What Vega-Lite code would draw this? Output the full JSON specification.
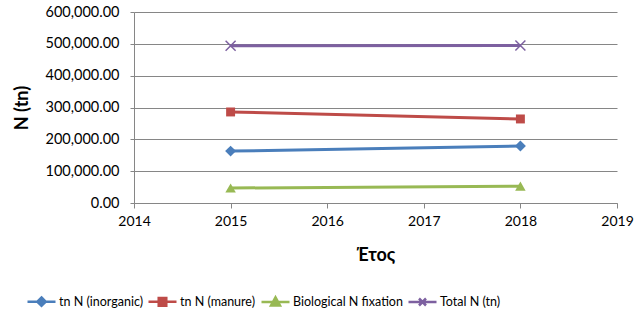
{
  "$schema": "https://vega.github.io/schema/vega-lite/v6.json",
  "autosize": {"type": "none"},
  "padding": {"left": 134, "top": 12, "right": 18, "bottom": 110},
  "width": 483,
  "height": 191,
  "background": "white",
  "config": {
    "font": "Lato",
    "view": {"stroke": null},
    "axis": {"labelFont": "Lato", "titleFont": "Lato", "labelColor": "#000000", "titleColor": "#000000"}
  },
  "data": {
    "values": [
      {"series": "tn N (inorganic)", "year": 2015, "value": 163000},
      {"series": "tn N (inorganic)", "year": 2018, "value": 179000},
      {"series": "tn N (manure)", "year": 2015, "value": 286000},
      {"series": "tn N (manure)", "year": 2018, "value": 264000},
      {"series": "Biological N fixation", "year": 2015, "value": 47000},
      {"series": "Biological N fixation", "year": 2018, "value": 53000},
      {"series": "Total N (tn)", "year": 2015, "value": 494000},
      {"series": "Total N (tn)", "year": 2018, "value": 495000}
    ]
  },
  "encoding": {
    "x": {
      "field": "year", "type": "quantitative",
      "scale": {"domain": [2014, 2019], "nice": false, "zero": false},
      "axis": {
        "values": [2014, 2015, 2016, 2017, 2018, 2019], "format": "d",
        "grid": false, "title": "Έτος", "titleFontSize": 18, "titleFontWeight": "bold",
        "titlePadding": 18, "labelFontSize": 14, "labelPadding": 6,
        "domainColor": "#868686", "tickColor": "#868686", "tickSize": 5, "labelFlush": false
      }
    },
    "y": {
      "field": "value", "type": "quantitative",
      "scale": {"domain": [0, 600000], "nice": false},
      "axis": {
        "values": [0, 100000, 200000, 300000, 400000, 500000, 600000], "format": ",.2f",
        "title": "N (tn)", "titleFontSize": 18, "titleFontWeight": "bold", "titlePadding": 14,
        "labelFontSize": 14.5, "labelPadding": 11,
        "gridColor": "#868686", "domainColor": "#868686", "tickColor": "#868686", "tickSize": 4
      }
    },
    "color": {
      "field": "series", "type": "nominal",
      "scale": {"domain": ["tn N (inorganic)", "tn N (manure)", "Biological N fixation", "Total N (tn)"], "range": ["#4A7EBB", "#BE4B48", "#98B954", "#7D60A0"]},
      "legend": {
        "title": null, "orient": "none", "direction": "horizontal",
        "legendX": -108, "legendY": 274,
        "labelFont": "Lato", "labelFontSize": 12.5, "labelColor": "#000000",
        "symbolSize": 784, "labelOffset": 2, "columnPadding": 0,
        "encode": {
          "symbols": {
            "update": {
              "shape": {"signal": "datum.value === 'tn N (inorganic)' ? 'M-1,0H1M0,-0.3L0.3,0L0,0.3L-0.3,0Z' : datum.value === 'tn N (manure)' ? 'M-1,0H1M-0.27,-0.27H0.27V0.27H-0.27Z' : datum.value === 'Biological N fixation' ? 'M-1,0H1M0,-0.32L0.32,0.26L-0.32,0.26Z' : 'M-1,0H1M-0.25,-0.25L0.25,0.25M-0.25,0.25L0.25,-0.25'"},
              "size": {"value": 784},
              "stroke": {"scale": "color", "field": "value"},
              "fill": {"scale": "color", "field": "value"},
              "strokeWidth": {"value": 2.5},
              "opacity": {"value": 1}
            }
          }
        }
      }
    }
  },
  "layer": [
    {
      "mark": {"type": "line", "strokeWidth": 3}
    },
    {
      "transform": [{"filter": "datum.series === 'tn N (inorganic)'"}],
      "mark": {"type": "point", "filled": true, "opacity": 1, "size": 120, "shape": "diamond"}
    },
    {
      "transform": [{"filter": "datum.series === 'tn N (manure)'"}],
      "mark": {"type": "point", "filled": true, "opacity": 1, "size": 80, "shape": "square"}
    },
    {
      "transform": [{"filter": "datum.series === 'Biological N fixation'"}],
      "mark": {"type": "point", "filled": true, "opacity": 1, "size": 110, "shape": "triangle-up"}
    },
    {
      "transform": [{"filter": "datum.series === 'Total N (tn)'"}],
      "mark": {"type": "point", "filled": false, "opacity": 1, "size": 100, "strokeWidth": 1.5, "shape": "M-1,-1L1,1M-1,1L1,-1"}
    }
  ]
}
